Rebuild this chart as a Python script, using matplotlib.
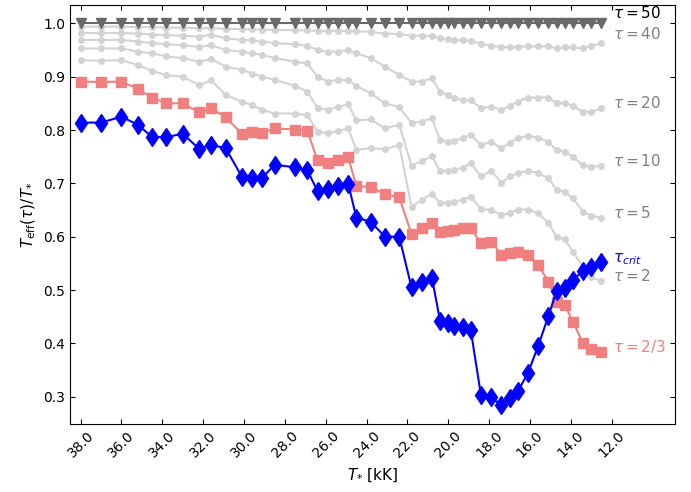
import matplotlib
matplotlib.use("Agg")
import matplotlib.pyplot as plt
import numpy as np

# Stellar temperature grid [kK]
t_star = [38.0, 37.0, 36.0, 35.2, 34.5, 33.8, 33.0, 32.2, 31.6, 30.9,
          30.1, 29.6, 29.1, 28.5, 27.5, 26.9, 26.4, 25.9, 25.4, 24.9,
          24.5, 23.8, 23.1, 22.4, 21.8, 21.3, 20.8, 20.4, 20.0, 19.7,
          19.3, 18.9, 18.4, 17.9, 17.4, 17.0, 16.6, 16.1, 15.6, 15.1,
          14.7, 14.3, 13.9, 13.4, 13.0, 12.5]

# T_eff(tau)/T_* for each optical depth
tau_50 = [1.0] * 46

tau_40 = [0.994, 0.994, 0.994, 0.993, 0.993, 0.992, 0.992, 0.991, 0.991, 0.990,
          0.989, 0.989, 0.988, 0.988, 0.987, 0.987, 0.986, 0.986, 0.986, 0.986,
          0.985, 0.984, 0.981, 0.980, 0.977, 0.977, 0.976, 0.972, 0.970, 0.969,
          0.968, 0.967, 0.962, 0.958, 0.956, 0.955, 0.956, 0.957, 0.957, 0.957,
          0.953, 0.955, 0.955, 0.953, 0.958, 0.963]

tau_20 = [0.982, 0.982, 0.982, 0.981, 0.979, 0.978, 0.977, 0.975, 0.979, 0.972,
          0.969, 0.968, 0.966, 0.963, 0.961, 0.958, 0.950, 0.947, 0.947, 0.950,
          0.944, 0.935, 0.919, 0.903, 0.891, 0.891, 0.897, 0.872, 0.866, 0.860,
          0.856, 0.856, 0.841, 0.844, 0.838, 0.845, 0.853, 0.861, 0.861, 0.861,
          0.850, 0.851, 0.845, 0.834, 0.834, 0.841]

tau_10 = [0.969, 0.969, 0.969, 0.966, 0.963, 0.961, 0.959, 0.956, 0.959, 0.950,
          0.947, 0.944, 0.941, 0.935, 0.928, 0.925, 0.900, 0.891, 0.894, 0.893,
          0.883, 0.869, 0.850, 0.843, 0.813, 0.816, 0.822, 0.781, 0.778, 0.780,
          0.785, 0.791, 0.772, 0.778, 0.766, 0.776, 0.785, 0.789, 0.786, 0.778,
          0.762, 0.759, 0.750, 0.734, 0.731, 0.733]

tau_5 = [0.953, 0.953, 0.953, 0.947, 0.944, 0.938, 0.935, 0.928, 0.933, 0.919,
         0.913, 0.906, 0.900, 0.894, 0.883, 0.872, 0.841, 0.838, 0.843, 0.849,
         0.818, 0.820, 0.803, 0.810, 0.733, 0.742, 0.751, 0.723, 0.723, 0.726,
         0.729, 0.738, 0.713, 0.724, 0.701, 0.713, 0.719, 0.724, 0.719, 0.710,
         0.688, 0.684, 0.672, 0.647, 0.639, 0.636]

tau_2 = [0.931, 0.930, 0.931, 0.922, 0.911, 0.903, 0.900, 0.884, 0.893, 0.866,
         0.853, 0.847, 0.838, 0.831, 0.831, 0.828, 0.797, 0.794, 0.798, 0.803,
         0.763, 0.766, 0.764, 0.772, 0.656, 0.669, 0.681, 0.663, 0.664, 0.666,
         0.669, 0.675, 0.652, 0.650, 0.641, 0.644, 0.651, 0.651, 0.644, 0.626,
         0.600, 0.595, 0.572, 0.544, 0.524, 0.517]

tau_23 = [0.891, 0.890, 0.891, 0.877, 0.861, 0.850, 0.850, 0.833, 0.841, 0.824,
          0.793, 0.797, 0.795, 0.803, 0.801, 0.799, 0.743, 0.739, 0.743, 0.749,
          0.695, 0.693, 0.680, 0.674, 0.605, 0.616, 0.626, 0.609, 0.611, 0.613,
          0.616, 0.616, 0.588, 0.591, 0.566, 0.569, 0.572, 0.566, 0.547, 0.516,
          0.477, 0.472, 0.441, 0.400, 0.389, 0.384]

tau_crit = [0.814, 0.814, 0.825, 0.810, 0.787, 0.787, 0.793, 0.765, 0.772, 0.766,
            0.712, 0.711, 0.711, 0.735, 0.730, 0.725, 0.685, 0.689, 0.696, 0.699,
            0.636, 0.628, 0.600, 0.600, 0.505, 0.515, 0.523, 0.442, 0.438, 0.433,
            0.431, 0.425, 0.303, 0.299, 0.284, 0.298, 0.310, 0.344, 0.395, 0.451,
            0.498, 0.504, 0.519, 0.536, 0.543, 0.552]

x_ticks = [38.0, 36.0, 34.0, 32.0, 30.0, 28.0, 26.0, 24.0, 22.0, 20.0,
           18.0, 16.0, 14.0, 12.0]
y_ticks = [0.3, 0.4, 0.5, 0.6, 0.7, 0.8, 0.9, 1.0]

fig = plt.figure(figsize=(6.91, 4.92), dpi=100)
ax = fig.add_axes([70 / 691, 1 - 424 / 492, 605 / 691, 419 / 492])

grey_series = [(tau_40, r"$\tau = 40$", 0.008),
               (tau_20, r"$\tau = 20$", 0.0),
               (tau_10, r"$\tau = 10$", 0.0),
               (tau_5, r"$\tau = 5$", 0.0),
               (tau_2, r"$\tau = 2$", 0.0)]

for vals, lab, dy in grey_series:
    ax.plot(t_star, vals, color="lightgray", marker="o", ms=4, lw=1.5, zorder=2)
    ax.text(11.95, vals[-1] + dy, lab, color="gray", fontsize=11)

ax.plot(t_star, tau_50, color="dimgray", marker="v", ms=7.5, lw=1.5, zorder=3)
ax.text(11.95, tau_50[-1] + 0.01, r"$\tau = 50$", color="black", fontsize=11)

ax.plot(t_star, tau_23, color="lightcoral", marker="s", ms=7, lw=1.5, zorder=4)
ax.text(11.95, tau_23[-1], r"$\tau = 2/3$", color="lightcoral", fontsize=11)

ax.plot(t_star, tau_crit, color="blue", marker="d", ms=9.5, lw=1.5, zorder=5)
ax.text(11.95, tau_crit[-1], r"$\tau_{crit}$", color="blue", fontsize=11)

ax.set_xlim(38.52, 8.9)
ax.set_ylim(0.2488, 1.0345)
ax.set_xticks(x_ticks)
ax.set_xticklabels([f"{t:.1f}" for t in x_ticks], rotation=45)
ax.set_yticks(y_ticks)
ax.set_yticklabels([f"{t:.1f}" for t in y_ticks])
ax.tick_params(direction="in", top=True, right=True, labelsize=10)
ax.set_xlabel(r"$T_{*}$ [kK]", fontsize=11)
ax.set_ylabel(r"$T_{\rm eff}(\tau)/T_{*}$", fontsize=11)

fig.savefig("out.png", dpi=100)
